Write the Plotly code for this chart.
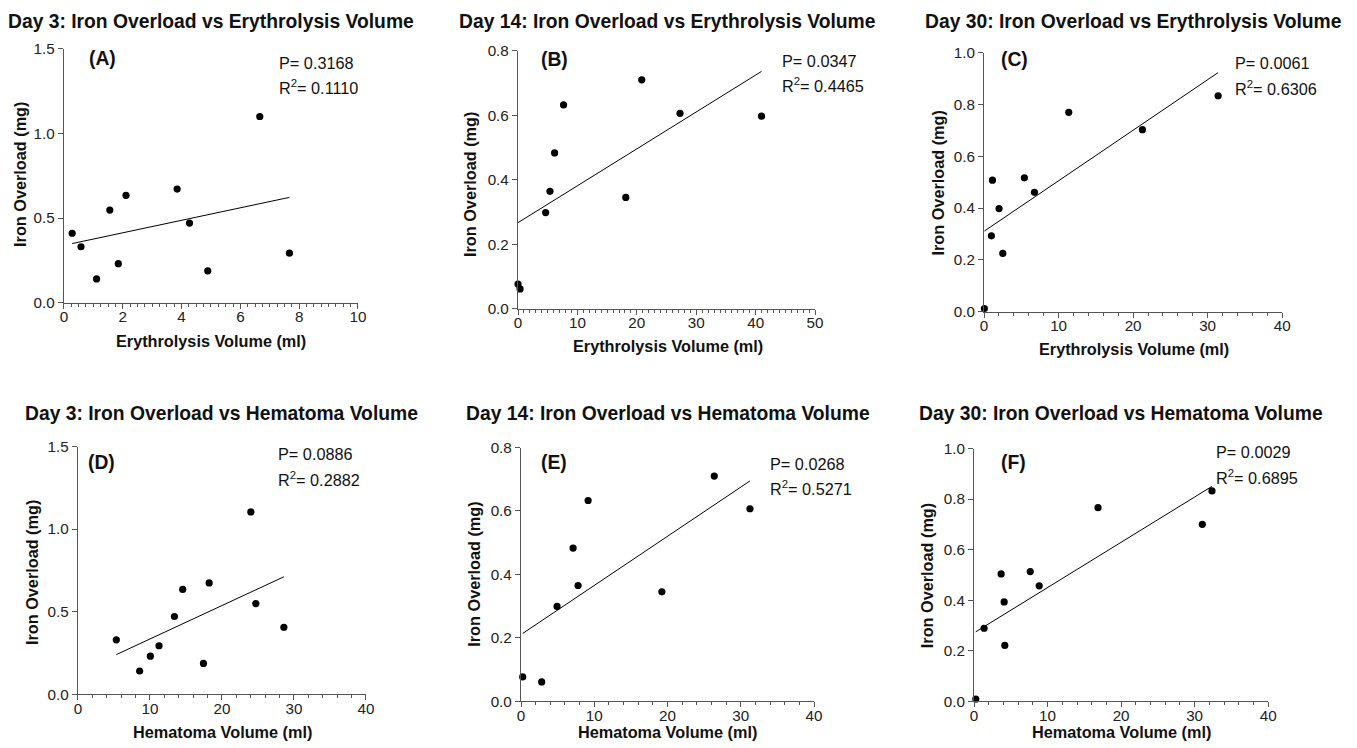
import numpy as np
import plotly.graph_objects as go

# ---------------- data ----------------
titles = [
    "Day 3: Iron Overload vs Erythrolysis Volume",
    "Day 14: Iron Overload vs Erythrolysis Volume",
    "Day 30: Iron Overload vs Erythrolysis Volume",
    "Day 3: Iron Overload vs Hematoma Volume",
    "Day 14: Iron Overload vs Hematoma Volume",
    "Day 30: Iron Overload vs Hematoma Volume",
]
panel_labels = ["(A)", "(B)", "(C)", "(D)", "(E)", "(F)"]
x_titles = ["Erythrolysis Volume (ml)"] * 3 + ["Hematoma Volume (ml)"] * 3
y_title = "Iron Overload (mg)"
p_values = ["0.3168", "0.0347", "0.0061", "0.0886", "0.0268", "0.0029"]
r2_values = ["0.1110", "0.4465", "0.6306", "0.2882", "0.5271", "0.6895"]

a_x = [0.28, 0.58, 1.11, 1.56, 1.85, 2.11, 3.85, 4.27, 4.89, 6.66, 7.67]
a_y = [0.41, 0.33, 0.14, 0.547, 0.23, 0.634, 0.671, 0.47, 0.188, 1.10, 0.292]

b_x = [0.0, 0.34, 4.65, 5.38, 6.16, 7.67, 18.14, 20.83, 27.27, 40.99]
b_y = [0.076, 0.061, 0.298, 0.364, 0.483, 0.632, 0.345, 0.710, 0.606, 0.597]

c_x = [0.04, 0.98, 1.12, 2.01, 2.51, 5.41, 6.76, 11.36, 21.25, 31.41]
c_y = [0.012, 0.293, 0.508, 0.398, 0.225, 0.517, 0.461, 0.770, 0.703, 0.834]

d_x = [5.33, 8.57, 10.06, 11.26, 13.40, 14.55, 17.43, 18.22, 24.01, 24.70, 28.60]
d_y = [0.330, 0.141, 0.231, 0.294, 0.471, 0.635, 0.187, 0.674, 1.104, 0.549, 0.406]

e_x = [0.23, 2.82, 4.92, 7.11, 7.79, 9.16, 19.23, 26.38, 31.25]
e_y = [0.077, 0.061, 0.299, 0.483, 0.365, 0.633, 0.345, 0.710, 0.607]

f_x = [0.23, 1.36, 3.68, 4.09, 4.18, 7.64, 8.86, 16.86, 31.05, 32.36]
f_y = [0.009, 0.289, 0.504, 0.393, 0.221, 0.513, 0.457, 0.766, 0.700, 0.832]

x_ranges = [[0, 10], [0, 50], [0, 40], [0, 40], [0, 40], [0, 40]]
x_dticks = [2, 10, 10, 10, 10, 10]
x_minor = [0.25, 1, 2, 2, 2, 2]
y_ranges = [[0, 1.5], [0, 0.8], [0, 1.0], [0, 1.5], [0, 0.8], [0, 1.0]]
y_dticks = [0.5, 0.2, 0.2, 0.5, 0.2, 0.2]

xs = [a_x, b_x, c_x, d_x, e_x, f_x]
ys = [a_y, b_y, c_y, d_y, e_y, f_y]

# ---------------- layout (target pixel positions in the picture) ----------------
W, H = 1357, 748
# the photographed picture maps page px -> picture px as  s * page + o
CAP_SX, CAP_OX = 0.991, 3.07
CAP_SY, CAP_OY = 0.978, 8.17

plot_boxes = [  # left, right, top, bottom in picture px
    (63, 357, 48, 302),
    (517, 814, 50, 308),
    (983, 1281, 52, 311),
    (77, 365, 446, 694),
    (520, 813, 447, 701),
    (973, 1267, 448, 701),
]
title_pos = [(210.5, 21), (666.5, 21), (1132, 21), (221, 413), (666.5, 413), (1120, 413)]
xtitle_pos = [(210, 340), (666.7, 345), (1133, 348), (221.7, 731.7), (666.7, 739), (1120, 739)]
ytitle_pos = [(18.3, 174), (468.3, 184), (936.7, 182), (31.7, 572), (473.3, 574), (926.7, 575)]
label_pos = [(86, 58), (538.3, 58.3), (998.3, 58.3), (85, 461.7), (538.3, 461.7), (998.3, 461.7)]
p_pos = [(276, 62), (779.3, 60), (1231.7, 62.7), (275, 454), (767.3, 463.3), (1212.7, 451.7)]
r_pos = [(276, 86), (779.3, 84), (1231.7, 87.3), (275, 478.3), (767.3, 487.3), (1212.7, 476.7)]

FONT = "Liberation Sans, Arial, Helvetica, sans-serif"
AXC = "#555555"
TXT = "#111111"
FS = 1.0 / ((CAP_SX + CAP_SY) / 2)  # font compensation


def px(x):
    return min(max((x - CAP_OX) / CAP_SX / W, 0.0), 1.0)


def py(y, limit=1.0):
    page_y = (y - CAP_OY) / CAP_SY
    page_y = min(page_y, H * limit)
    return 1 - page_y / H


fig = go.Figure()
annotations = []

for i in range(6):
    n = "" if i == 0 else str(i + 1)
    xa, ya = "x" + n, "y" + n
    x = np.array(xs[i])
    y = np.array(ys[i])

    fig.add_trace(go.Scatter(
        x=x, y=y, mode="markers", xaxis=xa, yaxis=ya,
        marker=dict(color="black", size=7.2), cliponaxis=False, showlegend=False,
    ))
    slope, intercept = np.polyfit(x, y, 1)
    fx = np.array([x.min(), x.max()])
    fig.add_trace(go.Scatter(
        x=fx, y=slope * fx + intercept, mode="lines", xaxis=xa, yaxis=ya,
        line=dict(color="black", width=1), cliponaxis=False, showlegend=False,
    ))

    l, r, t, b = plot_boxes[i]
    fig.update_layout(**{
        "xaxis" + n: dict(
            domain=[px(l), px(r)], anchor=ya, range=x_ranges[i],
            dtick=x_dticks[i], tick0=0, showgrid=False, zeroline=False,
            showline=True, linecolor=AXC, linewidth=1.3,
            ticks="outside", ticklen=5, tickcolor=AXC, tickwidth=1.3,
            ticklabelstandoff=-5,
            tickfont=dict(family=FONT, size=15 * FS, color="#222222"),
            minor=dict(dtick=x_minor[i], tick0=0, ticks="outside", ticklen=3,
                       tickcolor=AXC, tickwidth=1, showgrid=False),
            fixedrange=True,
        ),
        "yaxis" + n: dict(
            domain=[py(b), py(t)], anchor=xa, range=y_ranges[i],
            dtick=y_dticks[i], tick0=0, tickformat=".1f",
            showgrid=False, zeroline=False,
            showline=True, linecolor=AXC, linewidth=1.3,
            ticks="outside", ticklen=5, tickcolor=AXC, tickwidth=1.3,
            tickfont=dict(family=FONT, size=15 * FS, color="#222222"),
            fixedrange=True,
        ),
    })

    annotations.append(dict(
        text="<b>%s</b>" % titles[i], x=px(title_pos[i][0]), y=py(title_pos[i][1]),
        xref="paper", yref="paper", xanchor="center", yanchor="middle",
        showarrow=False, font=dict(family=FONT, size=19 * FS, color=TXT)))
    annotations.append(dict(
        text="<b>%s</b>" % x_titles[i], x=px(xtitle_pos[i][0]),
        y=py(xtitle_pos[i][1], limit=740 / 748),
        xref="paper", yref="paper", xanchor="center", yanchor="middle",
        showarrow=False, font=dict(family=FONT, size=16 * FS, color=TXT)))
    annotations.append(dict(
        text="<b>%s</b>" % y_title, x=px(ytitle_pos[i][0]), y=py(ytitle_pos[i][1]),
        xref="paper", yref="paper", xanchor="center", yanchor="middle",
        textangle=-90, showarrow=False, font=dict(family=FONT, size=16 * FS, color=TXT)))
    annotations.append(dict(
        text="<b>%s</b>" % panel_labels[i], x=px(label_pos[i][0]), y=py(label_pos[i][1]),
        xref="paper", yref="paper", xanchor="left", yanchor="middle",
        showarrow=False, font=dict(family=FONT, size=19 * FS, color=TXT)))
    annotations.append(dict(
        text="P= %s" % p_values[i], x=px(p_pos[i][0]), y=py(p_pos[i][1]),
        xref="paper", yref="paper", xanchor="left", yanchor="middle",
        showarrow=False, font=dict(family=FONT, size=16 * FS, color=TXT)))
    annotations.append(dict(
        text="R<sup>2</sup>= %s" % r2_values[i], x=px(r_pos[i][0]), y=py(r_pos[i][1]),
        xref="paper", yref="paper", xanchor="left", yanchor="middle",
        showarrow=False, font=dict(family=FONT, size=16 * FS, color=TXT)))

fig.update_layout(
    width=W, height=H,
    margin=dict(l=0, r=0, t=0, b=0),
    paper_bgcolor="white", plot_bgcolor="white",
    showlegend=False, annotations=annotations,
)

fig.write_html(
    "out.html",
    config={"displayModeBar": False},
    post_script="document.body.style.margin='0';document.body.style.overflow='hidden';",
)
